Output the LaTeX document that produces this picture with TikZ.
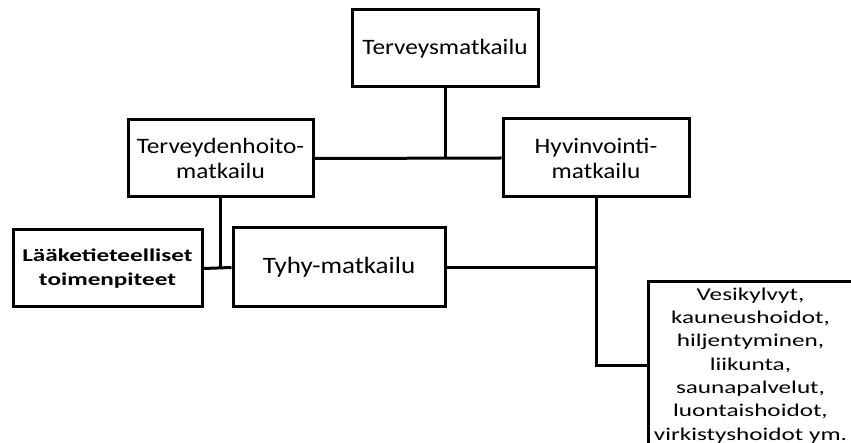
\documentclass[tikz,border=0pt]{standalone}
\usepackage{fontspec}
\setmainfont{Carlito}
\newfontfamily\midfont[FakeStretch=1.15]{Carlito}
\newfontfamily\widefont[FakeStretch=1.4]{Carlito}
\usetikzlibrary{positioning}

\begin{document}
\begin{tikzpicture}[x=1pt,y=-1pt,
    box/.style={draw, line width=3pt, align=center, inner sep=0pt,
        font=\midfont\fontsize{22}{25}\selectfont},
    smallbox/.style={box, font=\widefont\fontsize{18}{23.3}\selectfont},
    link/.style={line width=3pt}]
    \useasboundingbox (0,0) rectangle (851,443);
    \clip (0,0) rectangle (851,443);
    \node[box, minimum width=186pt, minimum height=77pt] (terveys) at (445,48.5) {Terveysmatkailu};
    \node[box, minimum width=185pt, minimum height=77pt] (hoito) at (220.5,158.5) {Terveydenhoito-\\matkailu};
    \node[box, minimum width=186pt, minimum height=78pt] (hyvin) at (596,158) {Hyvinvointi-\\matkailu};
    \node[smallbox, minimum width=189pt, minimum height=77pt, font=\widefont\bfseries\fontsize{18}{23.3}\selectfont] (laake) at (107.5,268.5) {Lääketieteelliset\\toimenpiteet};
    \node[box, minimum width=212pt, minimum height=79pt, font=\midfont\fontsize{23.5}{25}\selectfont] (tyhy) at (339,267.5) {Tyhy-matkailu};
    \node[smallbox, minimum width=205pt, minimum height=167pt] (vesi) at (750.5,365.5) {Vesikylvyt,\\kauneushoidot,\\hiljentyminen,\\liikunta,\\saunapalvelut,\\luontaishoidot,\\virkistyshoidot ym.};
    \draw[link] (terveys.south) -- (terveys.south |- hoito.east);
    \draw[link] (hoito.east) -- (hyvin.west);
    \draw[link] (hoito.south) -- (hoito.south |- laake.east);
    \draw[link] (laake.east) -- (tyhy.west);
    \draw[link] (tyhy.east) -- (tyhy.east -| hyvin.south);
    \draw[link] (hyvin.south) |- (vesi.west);
\end{tikzpicture}
\end{document}
